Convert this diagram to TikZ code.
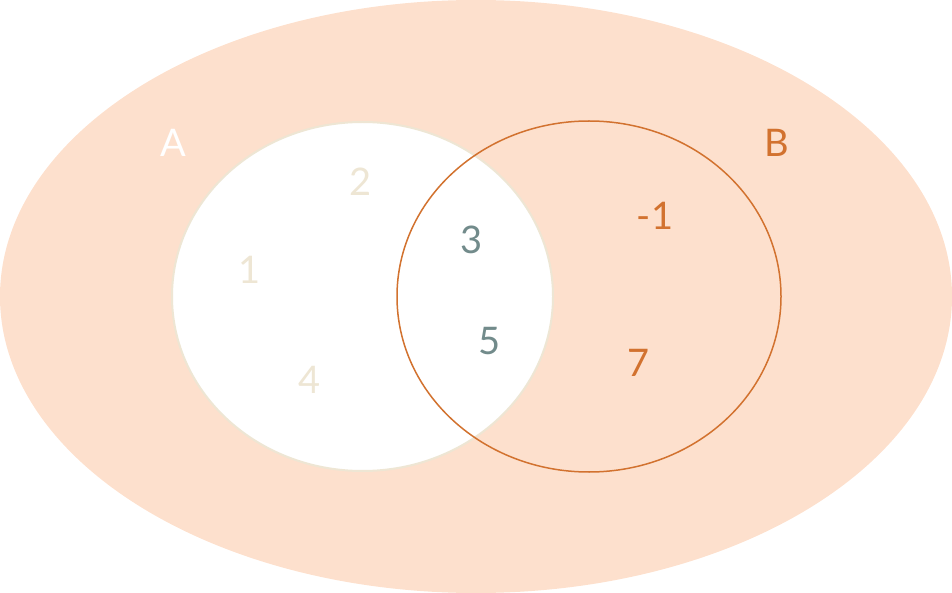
\documentclass[tikz,border=0pt]{standalone}
\usepackage{fontspec}
\setmainfont{Lato}
\definecolor{peach}{HTML}{FDE0CD}
\definecolor{cream}{HTML}{EEE6D4}
\definecolor{rust}{HTML}{D2722F}
\definecolor{slate}{HTML}{728B8B}
\tikzset{
  lbl/.style={font=\fontsize{38}{40}\selectfont, inner sep=0pt},
}
\begin{document}
\begin{tikzpicture}[x=1pt,y=-1pt]
			\useasboundingbox (0,0) rectangle (952,593);
			\def\ax{362.5} 	\def\bx{589}	\def\cy{296.5}
			\fill[peach] (476,296.5) ellipse [x radius=476, y radius=296.5];
			\draw[cream, line width=2pt, fill=white] (\ax,\cy) ellipse [x radius=190.5, y radius=174.5];
			\draw[rust, line width=1.5pt] (\bx,\cy) ellipse [x radius=192, y radius=175.5];
			\node[lbl, white] (setA) at (173,143) {A};
			\node[lbl, rust] (setB) at (777,143) {B};
			\node[lbl, cream] (n1) at (250,270) {1};
			\node[lbl, cream] (n2) at (361,182) {2};
			\node[lbl, cream] (n4) at (310,380) {4};
			\node[lbl, slate] (n3) at (472,240) {3};
			\node[lbl, slate] (n5) at (490,341) {5};
			\node[lbl, rust] (nm1) at (655,216) {-1};
			\node[lbl, rust] (n7) at (639,363) {7};
		\end{tikzpicture}
\end{document}
